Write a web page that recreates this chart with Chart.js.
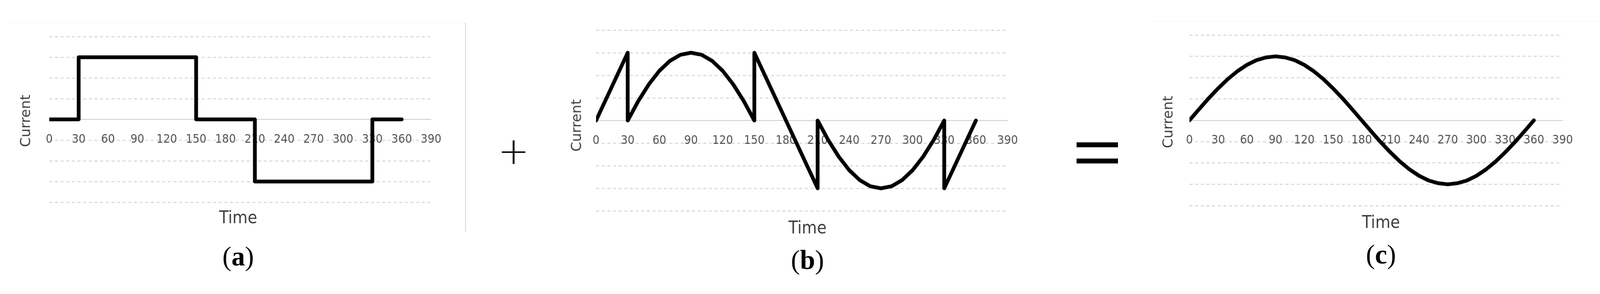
<!DOCTYPE html>
<html><head><meta charset="utf-8">
<script src="https://cdn.jsdelivr.net/npm/chart.js@4"></script>
<style>
html,body{margin:0;padding:0;background:#fff;overflow:hidden}
#wrap{position:absolute;left:0;top:0;width:4252px;height:752px;transform-origin:0 0;font-family:'Liberation Sans',sans-serif}
.abs{position:absolute}
canvas{position:absolute}
.ylab{position:absolute;font-family:'DejaVu Sans',Verdana,sans-serif;font-size:37px;color:#404040;transform:translate(-50%,-50%) rotate(-90deg);white-space:nowrap}
.xlab{position:absolute;font-family:'Liberation Sans Narrow','DejaVu Sans Condensed',sans-serif;font-size:46px;color:#404040;transform:translate(-50%,-50%)}
.cap{position:absolute;font-family:'Liberation Serif','DejaVu Serif',serif;font-size:72px;color:#000;transform:translate(-50%,-50%)}
.op{position:absolute;font-family:'DejaVu Sans',sans-serif;color:#000;transform:translate(-50%,-50%);line-height:1}
</style></head><body>
<div id="wrap">
<div class="abs" style="left:1236px;top:60px;width:2px;height:556px;background:#cfcfcf"></div>
<div class="abs" style="left:25px;top:60px;width:1211px;height:1px;background:#f2f2f2"></div>
<div class="abs" style="left:3065px;top:56px;width:1187px;height:1px;background:#f2f2f2"></div>
<canvas id="ca"></canvas><canvas id="cb"></canvas><canvas id="cc"></canvas>
<div class="ylab" style="left:67px;top:321px">Current</div>
<div class="ylab" style="left:1531px;top:333px">Current</div>
<div class="ylab" style="left:3103px;top:324px">Current</div>
<div class="xlab" style="left:633px;top:577px">Time</div>
<div class="xlab" style="left:2146px;top:604px">Time</div>
<div class="xlab" style="left:3670px;top:589px">Time</div>
<div class="cap" style="left:633px;top:681px">(<b>a</b>)</div>
<div class="cap" style="left:2146px;top:691px">(<b>b</b>)</div>
<div class="cap" style="left:3670px;top:676px">(<b>c</b>)</div>
<div class="op" style="left:1365px;top:401px;font-size:100px;font-weight:300">+</div>
<div class="abs" style="left:2861px;top:378px;width:110px;height:13px;background:#000"></div>
<div class="abs" style="left:2861px;top:421px;width:110px;height:13px;background:#000"></div>
</div>
<script>
const xTicks = [0,30,60,90,120,150,180,210,240,270,300,330,360,390];
const timeA = [0,30,30,150,150,210,210,330,330,360];
const currA = [0,0,3,3,0,0,-3,-3,0,0];
const timeB = [0,30,30,40,50,60,70,80,90,100,110,120,130,140,150,150,210,210,220,230,240,250,260,270,280,290,300,310,320,330,330,360];
const currB = [0,3,0,0.86,1.6,2.2,2.64,2.91,3,2.91,2.64,2.2,1.6,0.86,0,3,-3,0,-0.86,-1.6,-2.2,-2.64,-2.91,-3,-2.91,-2.64,-2.2,-1.6,-0.86,0,-3,0];
const timeC = [0,10,20,30,40,50,60,70,80,90,100,110,120,130,140,150,160,170,180,190,200,210,220,230,240,250,260,270,280,290,300,310,320,330,340,350,360];
const currC = [0,0.52,1.03,1.5,1.93,2.3,2.6,2.82,2.95,3,2.95,2.82,2.6,2.3,1.93,1.5,1.03,0.52,0,-0.52,-1.03,-1.5,-1.93,-2.3,-2.6,-2.82,-2.95,-3,-2.95,-2.82,-2.6,-2.3,-1.93,-1.5,-1.03,-0.52,0];

const sc = (window.innerWidth||4252)/4252;
document.getElementById('wrap').style.transform='scale('+sc+')';
const DPR = Math.max(1,(window.devicePixelRatio||1));

const PADX=45, PADY=12;
function make(id, xs, ys, left, top, right, bottom){
  const c=document.getElementById(id);
  const w=right-left+2*PADX, h=bottom-top+2*PADY;
  c.style.left=(left-PADX)+'px'; c.style.top=(top-PADY)+'px';
  c.style.width=w+'px'; c.style.height=h+'px';
  c.width=w; c.height=h;
  new Chart(c,{type:'line',
    data:{datasets:[{data:xs.map((x,i)=>({x:x,y:ys[i]})),borderColor:'#000',borderWidth:10,pointRadius:0,tension:0,borderJoinStyle:'round',borderCapStyle:'round',fill:false}]},
    options:{responsive:false,animation:false,devicePixelRatio:DPR,
      layout:{padding:{left:PADX,right:PADX,top:PADY,bottom:PADY}},
      plugins:{legend:{display:false},tooltip:{enabled:false}},
      scales:{
        x:{type:'linear',min:0,max:390,position:{y:0},
          afterBuildTicks:s=>{s.ticks=xTicks.map(v=>({value:v}));},
          grid:{display:false,drawTicks:false},
          border:{display:true,color:'#c8c8c8',width:2},
          ticks:{autoSkip:false,maxRotation:0,padding:34,color:'#505050',font:{family:"'Liberation Sans Narrow','DejaVu Sans Condensed',sans-serif",size:32}}},
        y:{min:-4,max:4,ticks:{display:false,stepSize:1},
          grid:{drawTicks:false,color:ctx=>ctx.tick&&ctx.tick.value===0?'rgba(0,0,0,0)':'#d9d9d9',lineWidth:3},
          border:{display:false,dash:[8,7]}}
      }}});
}
make('ca',timeA,currA,131,97,1162,537);
make('cb',timeB,currB,1584,80,2694,560);
make('cc',timeC,currC,3161,93,4169,546);
</script></body></html>
